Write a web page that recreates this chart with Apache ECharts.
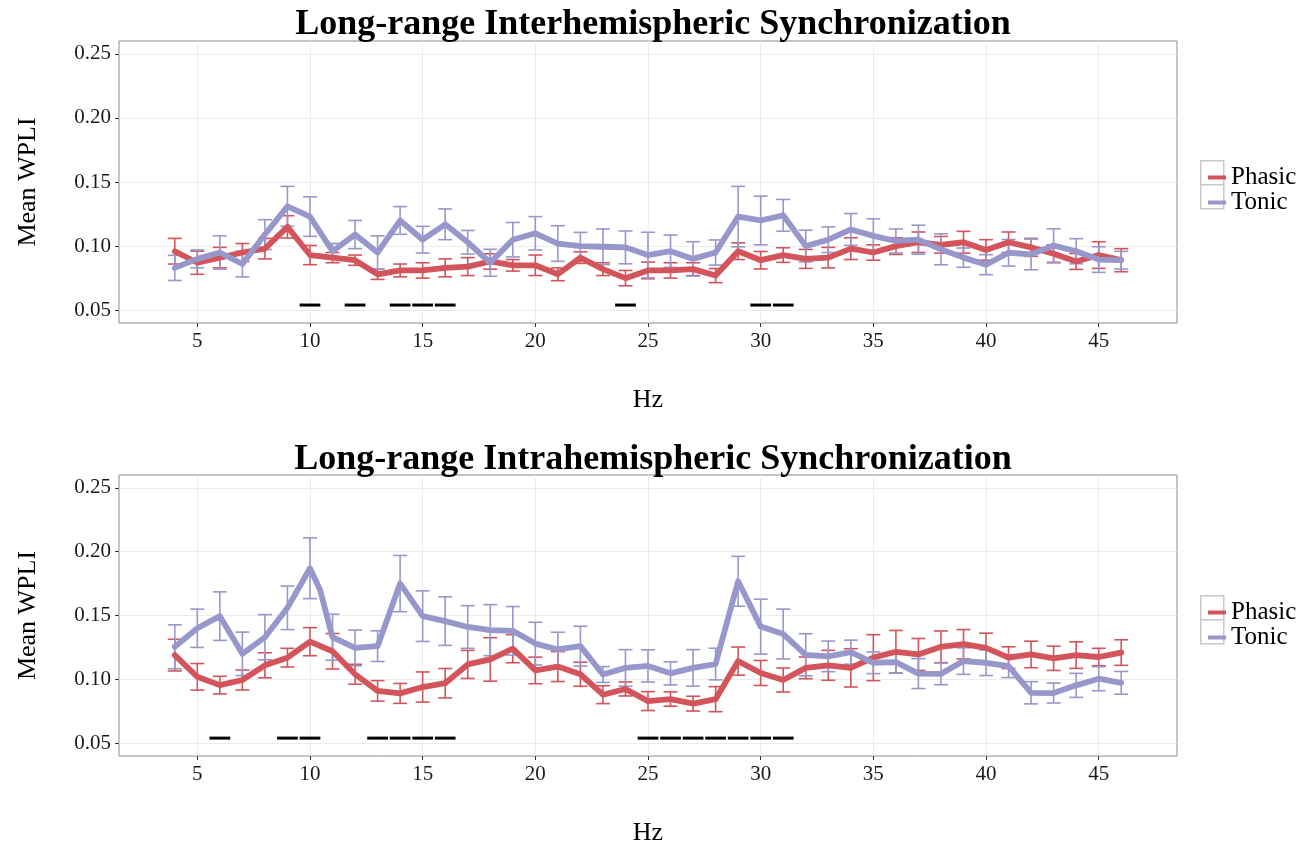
<!DOCTYPE html>
<html>
<head>
<meta charset="utf-8">
<script src="https://cdn.jsdelivr.net/npm/echarts@6/dist/echarts.min.js"></script>
<style>
html,body{margin:0;padding:0;background:#fff;}
#chart{width:1309px;height:847px;}
</style>
</head>
<body>
<div id="chart"></div>
<script>
// ---- data ----
const hz = [4,5,6,7,8,9,10,11,12,13,14,15,16,17,18,19,20,21,22,23,24,25,26,27,28,29,30,31,32,33,34,35,36,37,38,39,40,41,42,43,44,45,46];

const phasicInterMean = [0.096,0.087,0.091,0.095,0.098,0.115,0.093,0.091,0.089,0.078,0.081,0.081,0.083,0.084,0.088,0.085,0.085,0.078,0.091,0.082,0.075,0.081,0.081,0.082,0.077,0.096,0.089,0.093,0.090,0.091,0.098,0.095,0.100,0.103,0.101,0.103,0.097,0.103,0.099,0.094,0.088,0.093,0.089];
const phasicInterSE = [0.010,0.009,0.008,0.007,0.008,0.0087,0.0075,0.004,0.004,0.004,0.005,0.006,0.007,0.007,0.006,0.0045,0.008,0.005,0.0045,0.005,0.006,0.0065,0.006,0.005,0.0055,0.0065,0.0068,0.0057,0.0074,0.008,0.0085,0.006,0.0065,0.008,0.0065,0.0085,0.008,0.008,0.007,0.007,0.0062,0.0104,0.009];
const tonicInterMean = [0.083,0.090,0.095,0.086,0.109,0.131,0.123,0.096,0.109,0.095,0.120,0.105,0.117,0.103,0.087,0.105,0.110,0.102,0.100,0.0995,0.099,0.093,0.096,0.090,0.095,0.123,0.120,0.124,0.100,0.105,0.113,0.108,0.104,0.105,0.0975,0.091,0.0855,0.0948,0.0935,0.1005,0.096,0.0895,0.089];
const tonicInterSE = [0.0098,0.007,0.013,0.010,0.0116,0.0156,0.0154,0.006,0.011,0.013,0.0108,0.0104,0.012,0.0092,0.0105,0.0134,0.013,0.0139,0.0107,0.0139,0.0128,0.0178,0.0126,0.0134,0.0098,0.0236,0.019,0.0124,0.0124,0.010,0.0124,0.0133,0.0094,0.0113,0.0121,0.0075,0.0078,0.0104,0.012,0.013,0.0098,0.010,0.0069];

const phasicIntraMean = [0.119,0.102,0.0955,0.0995,0.111,0.117,0.1295,0.122,0.104,0.091,0.089,0.094,0.097,0.1117,0.1156,0.124,0.107,0.110,0.104,0.088,0.0925,0.083,0.0846,0.081,0.0845,0.1143,0.105,0.0995,0.109,0.111,0.109,0.117,0.1216,0.1195,0.1255,0.1275,0.1247,0.117,0.1195,0.1165,0.119,0.1175,0.121];
const phasicIntraSE = [0.0124,0.0104,0.0069,0.0078,0.0098,0.0073,0.011,0.0139,0.0078,0.008,0.0078,0.0118,0.0115,0.011,0.017,0.011,0.0104,0.0117,0.0094,0.007,0.0055,0.0074,0.0056,0.0058,0.0098,0.011,0.0098,0.0094,0.0085,0.0117,0.015,0.018,0.0167,0.0125,0.0124,0.0115,0.0115,0.0085,0.0104,0.0095,0.0104,0.0068,0.010];
const tonicIntraMean = [0.1255,0.140,0.1495,0.120,0.133,0.156,0.187,0.133,0.1246,0.126,0.175,0.1495,0.1456,0.141,0.1385,0.138,0.128,0.1234,0.126,0.1038,0.109,0.1105,0.1047,0.109,0.112,0.1768,0.1413,0.1355,0.1192,0.118,0.1213,0.113,0.1135,0.1045,0.1043,0.1143,0.113,0.1104,0.0895,0.0893,0.0953,0.1005,0.0973];
const tonicIntraSE = [0.0172,0.015,0.019,0.017,0.0177,0.017,0.0238,0.018,0.014,0.012,0.022,0.0198,0.019,0.0167,0.020,0.019,0.0167,0.0135,0.0156,0.0062,0.0143,0.0126,0.009,0.0143,0.0124,0.0195,0.0215,0.0195,0.0165,0.012,0.0094,0.0085,0.0085,0.0117,0.0085,0.0104,0.010,0.009,0.0087,0.0078,0.0094,0.0094,0.0089];
// extra in-between line vertices (Hz, value)
const tonicIntraExtra = [[10.45, 0.170]];

const sigInter = [10,12,14,15,16,24,30,31];
const sigIntra = [6,9,10,13,14,15,16,25,26,27,28,29,30,31];
const sigLevel = 0.054;

const xTicks = [5,10,15,20,25,30,35,40,45];
const yTicks = [0.05,0.10,0.15,0.20,0.25];

// ---- styling ----
const RED = '#D3545B';
const BLUE = '#9797CC';
const FONT = 'Liberation Serif';

function pairs(means, extra){
  const p = hz.map((h,i)=>[h, means[i]]).concat(extra || []);
  p.sort((a,b)=>a[0]-b[0]);
  return p;
}
function triples(means, ses){ return hz.map((h,i)=>[h, means[i], ses[i]]); }

function errRender(color){
  return function(params, api){
    const x = api.value(0), m = api.value(1), s = api.value(2);
    const t = api.coord([x, m + s]);
    const b = api.coord([x, m - s]);
    const l = api.coord([x - 0.31, m])[0];
    const r = api.coord([x + 0.31, m])[0];
    const st = {stroke: color, lineWidth: 1.6};
    return {type:'group', children:[
      {type:'line', shape:{x1:t[0], y1:t[1], x2:b[0], y2:b[1]}, style:st},
      {type:'line', shape:{x1:l, y1:t[1], x2:r, y2:t[1]}, style:st},
      {type:'line', shape:{x1:l, y1:b[1], x2:r, y2:b[1]}, style:st}
    ]};
  };
}
function sigRender(params, api){
  const x = api.value(0), y = api.value(1);
  const a = api.coord([x - 0.46, y]);
  const b = api.coord([x + 0.46, y]);
  return {type:'rect', shape:{x:a[0], y:a[1]-1.5, width:b[0]-a[0], height:3}, style:{fill:'#000'}};
}

const grids = [
  {left:119, top:41, width:1058, height:282, show:true, borderColor:'#8a8a8a', borderWidth:1, backgroundColor:'#fff'},
  {left:119, top:475, width:1058, height:283, show:true, borderColor:'#8a8a8a', borderWidth:1, backgroundColor:'#fff'}
];

function xAx(i){
  return {type:'value', gridIndex:i, min:1.525, max:48.475,
    name:'Hz', nameLocation:'middle', nameGap:64,
    nameTextStyle:{fontFamily:FONT, fontSize:26, color:'#000'},
    axisLine:{show:false},
    axisTick:{show:true, length:4, customValues:xTicks, lineStyle:{color:'#333'}},
    axisLabel:{customValues:xTicks, fontFamily:FONT, fontSize:21, color:'#1a1a1a', margin:8},
    splitLine:{show:true, lineStyle:{color:'#ececec', width:1}}
  };
}
function yAx(i){
  return {type:'value', gridIndex:i, min:0.04, max:0.26,
    name:'Mean WPLI', nameLocation:'middle', nameGap:78, nameRotate:90,
    nameTextStyle:{fontFamily:FONT, fontSize:26, color:'#000'},
    axisLine:{show:false},
    axisTick:{show:true, length:4, customValues:yTicks, lineStyle:{color:'#333'}},
    axisLabel:{customValues:yTicks, fontFamily:FONT, fontSize:21, color:'#1a1a1a', margin:8,
      formatter:v=>v.toFixed(2)},
    splitLine:{show:true, lineStyle:{color:'#ececec', width:1}}
  };
}

function panelSeries(gi, pMean, pSE, tMean, tSE, sig, tExtra){
  return [
    {type:'custom', name:'Phasic SE', xAxisIndex:gi, yAxisIndex:gi, renderItem:errRender(RED),
      data:triples(pMean,pSE), encode:{x:0,y:1}, z:2, silent:true},
    {type:'custom', name:'Tonic SE', xAxisIndex:gi, yAxisIndex:gi, renderItem:errRender(BLUE),
      data:triples(tMean,tSE), encode:{x:0,y:1}, z:2, silent:true},
    {type:'line', name:'Phasic', xAxisIndex:gi, yAxisIndex:gi, data:pairs(pMean),
      showSymbol:false, symbol:'none', lineStyle:{color:RED, width:5.8, join:'round', cap:'round'}, itemStyle:{color:RED}, z:3},
    {type:'line', name:'Tonic', xAxisIndex:gi, yAxisIndex:gi, data:pairs(tMean, tExtra),
      showSymbol:false, symbol:'none', lineStyle:{color:BLUE, width:5.8, join:'round', cap:'round'}, itemStyle:{color:BLUE}, z:4},
    {type:'custom', name:'Significant', xAxisIndex:gi, yAxisIndex:gi, renderItem:sigRender,
      data:sig.map(h=>[h, sigLevel]), encode:{x:0,y:1}, z:5, silent:true}
  ];
}

function legendAt(top){
  return {data:['Phasic','Tonic'], orient:'vertical', left:1203, top:top, icon:'rect',
    itemWidth:18, itemHeight:4, itemGap:0, selectedMode:false,
    textStyle:{fontFamily:FONT, fontSize:25, color:'#000', lineHeight:24, padding:[0,0,0,0]}};
}
function keyBoxes(top){
  return [
    {type:'rect', left:1200, top:top, shape:{width:23, height:24}, style:{fill:'#fff', stroke:'#c8c8c8', lineWidth:1.5}, z:1},
    {type:'rect', left:1200, top:top+24, shape:{width:23, height:24}, style:{fill:'#fff', stroke:'#c8c8c8', lineWidth:1.5}, z:1}
  ];
}

const option = {
  animation:false,
  backgroundColor:'#fff',
  title:[
    {text:'Long-range Interhemispheric Synchronization', left:648, top:2, textAlign:'center',
      textStyle:{fontFamily:FONT, fontSize:36, fontWeight:'bold', color:'#000'}},
    {text:'Long-range Intrahemispheric Synchronization', left:648, top:437, textAlign:'center',
      textStyle:{fontFamily:FONT, fontSize:36, fontWeight:'bold', color:'#000'}}
  ],
  grid:grids,
  xAxis:[xAx(0), xAx(1)],
  yAxis:[yAx(0), yAx(1)],
  legend:[legendAt(160), legendAt(595)],
  graphic:[].concat(keyBoxes(160), keyBoxes(595)),
  series:[].concat(
    panelSeries(0, phasicInterMean, phasicInterSE, tonicInterMean, tonicInterSE, sigInter, []),
    panelSeries(1, phasicIntraMean, phasicIntraSE, tonicIntraMean, tonicIntraSE, sigIntra, tonicIntraExtra)
  )
};

const chart = echarts.init(document.getElementById('chart'), null, {renderer:'canvas'});
chart.setOption(option);
</script>
</body>
</html>
